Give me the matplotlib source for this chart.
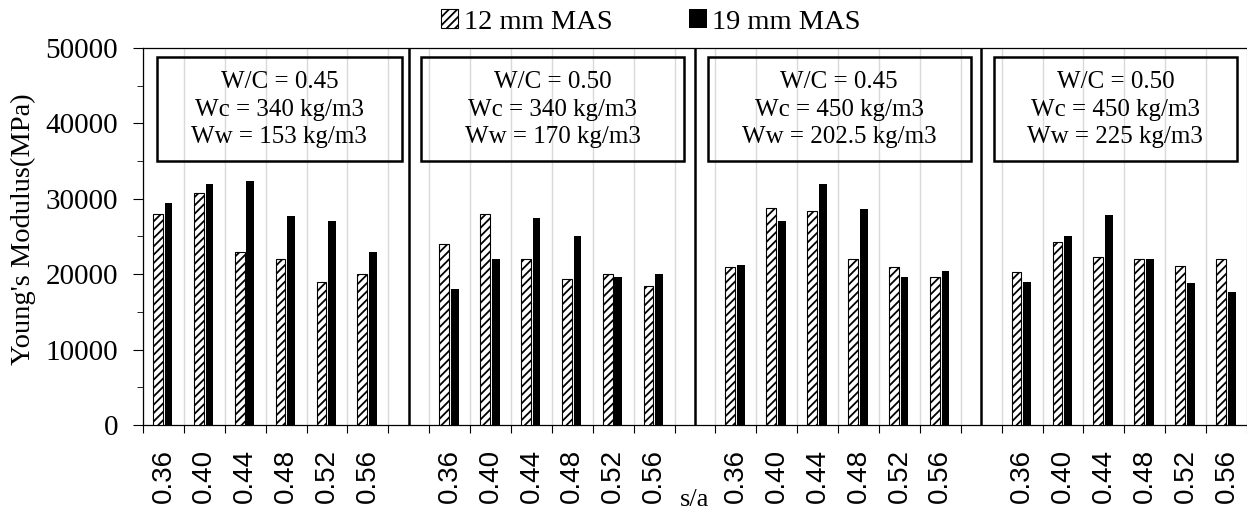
import numpy as np
import matplotlib.pyplot as plt
from matplotlib.patches import Rectangle
from matplotlib.ticker import MultipleLocator

# Datos
sa_labels = ['0.36', '0.40', '0.44', '0.48', '0.52', '0.56']
box_texts = [
    'W/C = 0.45\nWc = 340 kg/m3\nWw = 153 kg/m3',
    'W/C = 0.50\nWc = 340 kg/m3\nWw = 170 kg/m3',
    'W/C = 0.45\nWc = 450 kg/m3\nWw = 202.5 kg/m3',
    'W/C = 0.50\nWc = 450 kg/m3\nWw = 225 kg/m3',
]
mas12 = [28000, 30800, 23000, 22000, 19000, 20000,
         24000, 28000, 22000, 19400, 20000, 18400,
         21000, 28800, 28400, 22000, 21000, 19600,
         20300, 24300, 22300, 22000, 21100, 22000]
mas19 = [29500, 32000, 32300, 27700, 27000, 23000,
         18000, 22000, 27500, 25100, 19600, 20000,
         21200, 27000, 31900, 28700, 19600, 20400,
         19000, 25100, 27900, 22000, 18800, 17600]

plt.rcParams['font.family'] = 'Liberation Serif'
plt.rcParams['hatch.linewidth'] = 1.3

W, H = 1247, 515
fig = plt.figure(figsize=(W / 100, H / 100), dpi=100)
ax = fig.add_axes([143 / W, 90 / H, 1104 / W, 377 / H])

n_groups = len(box_texts)
step = len(sa_labels) + 1
idx = np.array([g * step + j for g in range(n_groups) for j in range(len(sa_labels))])
n_cat = n_groups * step - 1

ax.bar(idx + 0.365, mas12, width=0.24, facecolor='white', edgecolor='black',
       hatch='////', lw=0.8, label='12 mm MAS', zorder=3)
ax.bar(idx + 0.625, mas19, width=0.19, color='black', label='19 mm MAS', zorder=3)

ax.set_xlim(0, n_cat)
ax.set_ylim(0, 50000)

# ejes
ax.set_xticks(np.arange(n_cat + 1))
ax.tick_params(axis='x', which='major', labelbottom=False, length=6, direction='out', color='black')
ax.set_xticks(idx + 0.5, [sa_labels[i % len(sa_labels)] for i in range(len(idx))], minor=True)
ax.tick_params(axis='x', which='minor', length=0, pad=17, labelrotation=90, labelsize=20)
for lbl in ax.get_xticklabels(minor=True):
    lbl.set_fontfamily('Liberation Sans')
ax.grid(axis='x', which='major', color='#d9d9d9', lw=1, zorder=0)

ax.set_yticks(np.arange(0, 50001, 10000))
ax.yaxis.set_minor_locator(MultipleLocator(5000))
ax.tick_params(axis='y', which='major', length=7, pad=11, labelsize=21)
ax.tick_params(axis='y', which='minor', length=4.5)

ax.spines['right'].set_visible(False)
for s in ['left', 'bottom', 'top']:
    ax.spines[s].set_linewidth(0.9)

# separadores y cuadros
for g in range(1, n_groups):
    ax.axvline(g * step - 0.5, color='black', lw=1.8, zorder=4)

box_x = [0.34, 6.80, 13.81, 20.81]
box_w = [5.99, 6.43, 6.43, 5.94]
for x0, w, txt in zip(box_x, box_w, box_texts):
    ax.add_patch(Rectangle((x0, 35000), w, 13800, fill=False, lw=1.8,
                           edgecolor='black', zorder=5))
    ax.text(x0 + w / 2, 41800, txt, ha='center', va='center', fontsize=18,
            linespacing=1.32, zorder=5)

fig.legend(loc='center', bbox_to_anchor=(651 / W, 1 - 22 / H), ncol=2, frameon=False,
           fontsize=20.5, handlelength=0.6, handleheight=0.6, handletextpad=0.2,
           columnspacing=2.7)

fig.text(23 / W, 1 - 229 / H, "Young's Modulus(MPa)", rotation=90,
         ha='center', va='center', fontsize=20.5)
fig.text(695 / W, 1 - 500 / H, 's/a', ha='center', va='center', fontsize=19)

fig.savefig('out.png', dpi=100)
